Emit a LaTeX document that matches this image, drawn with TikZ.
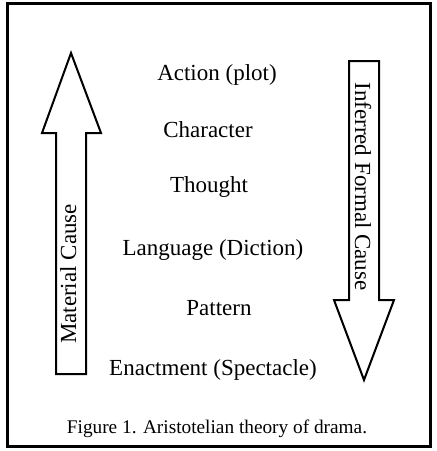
\documentclass[tikz,border=0pt]{standalone}
\usepackage{fontspec}
\setmainfont{Liberation Serif}
\tikzset{
  item/.style={anchor=base, inner sep=0pt, font=\fontsize{23}{27}\selectfont},
  caption/.style={anchor=base, inner sep=0pt, font=\fontsize{19.3}{23}\selectfont},
  bigarrow/.style={draw=black, line width=2pt, fill=white, miter limit=20, line join=miter},
  frame/.style={draw=black, line width=3pt}
}
\begin{document}
\begin{tikzpicture}[x=1pt,y=1pt]
\useasboundingbox (0,0) rectangle (437,-451);
\fill[white] (0,0) rectangle (437,-451);
\draw[frame] (7,-3.5) rectangle (430.5,-446.5);
% left up arrow
\draw[bigarrow] (56,-374) -- (56,-133) -- (42,-133) -- (71,-53) -- (101,-133) -- (86,-133) -- (86,-374) -- cycle;
% right down arrow
\draw[bigarrow] (349,-61) -- (379,-61) -- (379,-300) -- (394,-300) -- (364,-380) -- (334,-300) -- (349,-300) -- cycle;
\node[item, rotate=90] (mat) at (76,-274) {Material Cause};
\node[item, rotate=-90] (inf) at (355,-186.5) {Inferred Formal Cause};
\node[item] (action) at (217,-80) {Action (plot)};
\node[item] (char) at (208,-137) {Character};
\node[item] (thought) at (209,-192) {Thought};
\node[item] (lang) at (213,-255) {Language (Diction)};
\node[item] (pattern) at (219,-315) {Pattern};
\node[item] (enact) at (213,-375) {Enactment (Spectacle)};
\node[caption] (cap) at (217,-433) {Figure 1. Aristotelian theory of drama.};
\end{tikzpicture}
\end{document}
